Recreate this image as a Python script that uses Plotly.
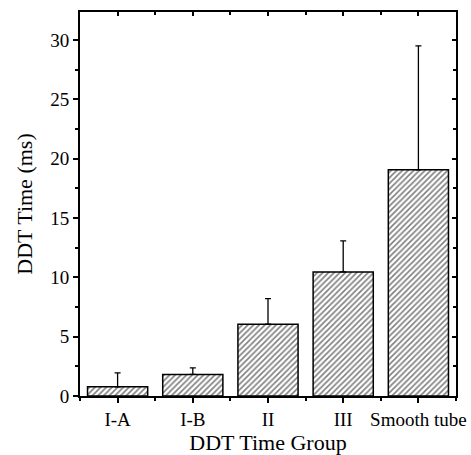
import plotly.graph_objects as go

categories = ["I-A", "I-B", "II", "III", "Smooth tube"]
ddt_mean = [0.78, 1.82, 6.05, 10.45, 19.05]
ddt_err = [1.17, 0.55, 2.15, 2.62, 10.45]

xpos = list(range(len(categories)))
FONT = "Liberation Serif"

fig = go.Figure()
fig.add_trace(go.Bar(
    x=xpos, y=ddt_mean, width=0.8,
    marker=dict(color="white", line=dict(color="black", width=1.5),
                pattern=dict(shape="/", fgcolor="black", bgcolor="white", size=4, solidity=0.4)),
    error_y=dict(type="data", array=ddt_err, arrayminus=[0]*len(ddt_err), symmetric=False,
                 color="black", thickness=1.3, width=3),
    showlegend=False,
))
# invisible trace for mirrored axes
fig.add_trace(go.Scatter(x=[0], y=[0], xaxis="x2", yaxis="y2", mode="markers",
                         marker=dict(opacity=0), showlegend=False, hoverinfo="skip"))

common = dict(showline=True, linecolor="black", linewidth=2, showgrid=False, zeroline=False,
              tickcolor="black", tickwidth=1.5, automargin=False)
fig.update_layout(
    width=471, height=455,
    margin=dict(l=80, r=15, t=12, b=59),
    paper_bgcolor="white", plot_bgcolor="white",
    font=dict(family=FONT, color="black", size=19),
    xaxis=dict(range=[-0.5, 4.5], tickvals=xpos, ticktext=categories, ticks="outside", ticklen=5,
               minor=dict(ticks="outside", ticklen=3, tick0=0.5, dtick=1, tickcolor="black", tickwidth=1.5),
               title=dict(text="DDT Time Group", font=dict(size=22), standoff=4),
               tickfont=dict(size=19), ticklabelstandoff=0, **common),
    yaxis=dict(range=[0, 32.35], tickvals=[0, 5, 10, 15, 20, 25, 30], ticks="outside", ticklen=5,
               minor=dict(ticks="outside", ticklen=3, tick0=2.5, dtick=5, tickcolor="black", tickwidth=1.5),
               title=dict(text="DDT Time (ms)", font=dict(size=22), standoff=12),
               tickfont=dict(size=19), **common),
    xaxis2=dict(range=[-0.5, 4.5], overlaying="x", side="top", tickvals=xpos, ticks="inside", ticklen=4,
                showticklabels=False,
                minor=dict(ticks="inside", ticklen=3, tick0=0.5, dtick=1, tickcolor="black", tickwidth=1.5),
                **common),
    yaxis2=dict(range=[0, 32.35], overlaying="y", side="right", tickvals=[0, 5, 10, 15, 20, 25, 30],
                ticks="inside", ticklen=4, showticklabels=False,
                minor=dict(ticks="inside", ticklen=3, tick0=2.5, dtick=5, tickcolor="black", tickwidth=1.5),
                **common),
    bargap=0.2,
)
fig.write_html("out.html")
